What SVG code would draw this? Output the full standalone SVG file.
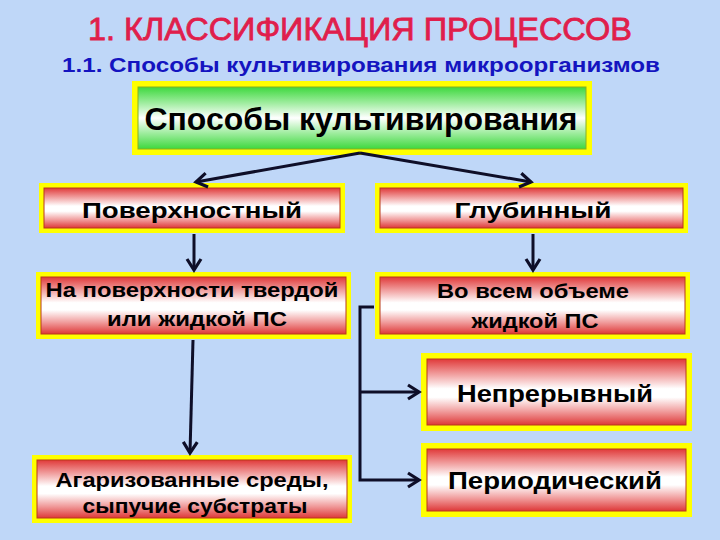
<svg xmlns="http://www.w3.org/2000/svg" width="720" height="540" viewBox="0 0 720 540">
<defs>
<linearGradient id="gRed" x1="0" y1="0" x2="0" y2="1">
<stop offset="0" stop-color="#E03A3A"/>
<stop offset="0.22" stop-color="#F09A9A"/>
<stop offset="0.45" stop-color="#FFFFFF"/>
<stop offset="0.58" stop-color="#FFFFFF"/>
<stop offset="0.8" stop-color="#F09A9A"/>
<stop offset="1" stop-color="#DE3838"/>
</linearGradient>
<linearGradient id="gGreen" x1="0" y1="0" x2="0" y2="1">
<stop offset="0" stop-color="#3ED83E"/>
<stop offset="0.25" stop-color="#9CEC9C"/>
<stop offset="0.5" stop-color="#FFFFFF"/>
<stop offset="0.75" stop-color="#9CEC9C"/>
<stop offset="1" stop-color="#3ED83E"/>
</linearGradient>
<marker id="arr" markerUnits="userSpaceOnUse" markerWidth="20" markerHeight="20" viewBox="-14 -10 20 20" refX="0" refY="0" orient="auto">
<path d="M -11 -7 L 0 0 L -11 7" fill="none" stroke="#0E0E28" stroke-width="3.2" stroke-linejoin="miter"/>
</marker>
<style>
.outer{fill:#FFFF00;}
.inner{fill:url(#gRed);stroke:#B83A1A;stroke-width:1;}
.innerG{fill:url(#gGreen);stroke:#88B020;stroke-width:1;}
.t{font-family:"Liberation Sans",Arial,sans-serif;font-weight:bold;fill:#000;text-anchor:middle;}
.c{fill:none;stroke:#0E0E28;stroke-width:3;}
</style>
</defs>
<rect width="720" height="540" fill="#BFD7F8"/>
<g id="title">
<text x="360" y="40" font-family="'Liberation Sans',Arial,sans-serif" font-size="31" fill="#E01E4C" text-anchor="middle" textLength="544" lengthAdjust="spacingAndGlyphs" stroke="#E01E4C" stroke-width="0.8">1. КЛАССИФИКАЦИЯ ПРОЦЕССОВ</text>
<text x="361" y="72" font-family="'Liberation Sans',Arial,sans-serif" font-size="20" font-weight="bold" fill="#1414C0" text-anchor="middle" textLength="598" lengthAdjust="spacingAndGlyphs">1.1.  Способы культивирования микроорганизмов</text>
</g>
<g id="n-root">
<rect class="outer" x="132" y="81" width="460" height="74"/>
<rect class="innerG" x="138" y="87" width="448" height="62"/>
<text class="t" x="361" y="130" font-size="31" textLength="433" lengthAdjust="spacingAndGlyphs">Способы культивирования</text>
</g>
<g id="n-surface">
<rect class="outer" x="39" y="183" width="306" height="50"/>
<rect class="inner" x="44" y="188" width="296" height="40"/>
<text class="t" x="192" y="218" font-size="22" textLength="220" lengthAdjust="spacingAndGlyphs">Поверхностный</text>
</g>
<g id="n-deep">
<rect class="outer" x="375" y="183" width="313" height="50"/>
<rect class="inner" x="380" y="188" width="303" height="40"/>
<text class="t" x="533" y="218" font-size="22" textLength="157" lengthAdjust="spacingAndGlyphs">Глубинный</text>
</g>
<g id="n-surface-ps">
<rect class="outer" x="36" y="272" width="315" height="67"/>
<rect class="inner" x="41" y="277" width="305" height="57"/>
<text class="t" x="192" y="297" font-size="21" textLength="293" lengthAdjust="spacingAndGlyphs">На поверхности твердой</text>
<text class="t" x="197" y="326" font-size="21" textLength="180" lengthAdjust="spacingAndGlyphs">или жидкой ПС</text>
</g>
<g id="n-volume">
<rect class="outer" x="375" y="272" width="315" height="67"/>
<rect class="inner" x="380" y="277" width="305" height="57"/>
<text class="t" x="533" y="298" font-size="21" textLength="192" lengthAdjust="spacingAndGlyphs">Во всем объеме</text>
<text class="t" x="535" y="328" font-size="21" textLength="127" lengthAdjust="spacingAndGlyphs">жидкой ПС</text>
</g>
<g id="n-continuous">
<rect class="outer" x="421" y="353" width="271" height="78"/>
<rect class="inner" x="427" y="359" width="259" height="66"/>
<text class="t" x="555" y="402" font-size="23" textLength="196" lengthAdjust="spacingAndGlyphs">Непрерывный</text>
</g>
<g id="n-periodic">
<rect class="outer" x="421" y="443" width="271" height="74"/>
<rect class="inner" x="427" y="449" width="259" height="62"/>
<text class="t" x="555" y="489" font-size="23" textLength="214" lengthAdjust="spacingAndGlyphs">Периодический</text>
</g>
<g id="n-agar">
<rect class="outer" x="32" y="455" width="320" height="68"/>
<rect class="inner" x="37" y="460" width="310" height="58"/>
<text class="t" x="192" y="487" font-size="20" textLength="273" lengthAdjust="spacingAndGlyphs">Агаризованные среды,</text>
<text class="t" x="195" y="513" font-size="20" textLength="225" lengthAdjust="spacingAndGlyphs">сыпучие субстраты</text>
</g>
<g id="connectors">
<polyline class="c" points="360,153 196,182" marker-end="url(#arr)"/>
<polyline class="c" points="360,153 531,182" marker-end="url(#arr)"/>
<line class="c" x1="194" y1="234" x2="194" y2="270" marker-end="url(#arr)"/>
<line class="c" x1="533" y1="234" x2="533" y2="270" marker-end="url(#arr)"/>
<line class="c" x1="193" y1="340" x2="190" y2="453" marker-end="url(#arr)"/>
<polyline class="c" points="374,307 360,307 360,480 419,480" marker-end="url(#arr)"/>
<line class="c" x1="360" y1="392" x2="419" y2="392" marker-end="url(#arr)"/>
</g>
</svg>
